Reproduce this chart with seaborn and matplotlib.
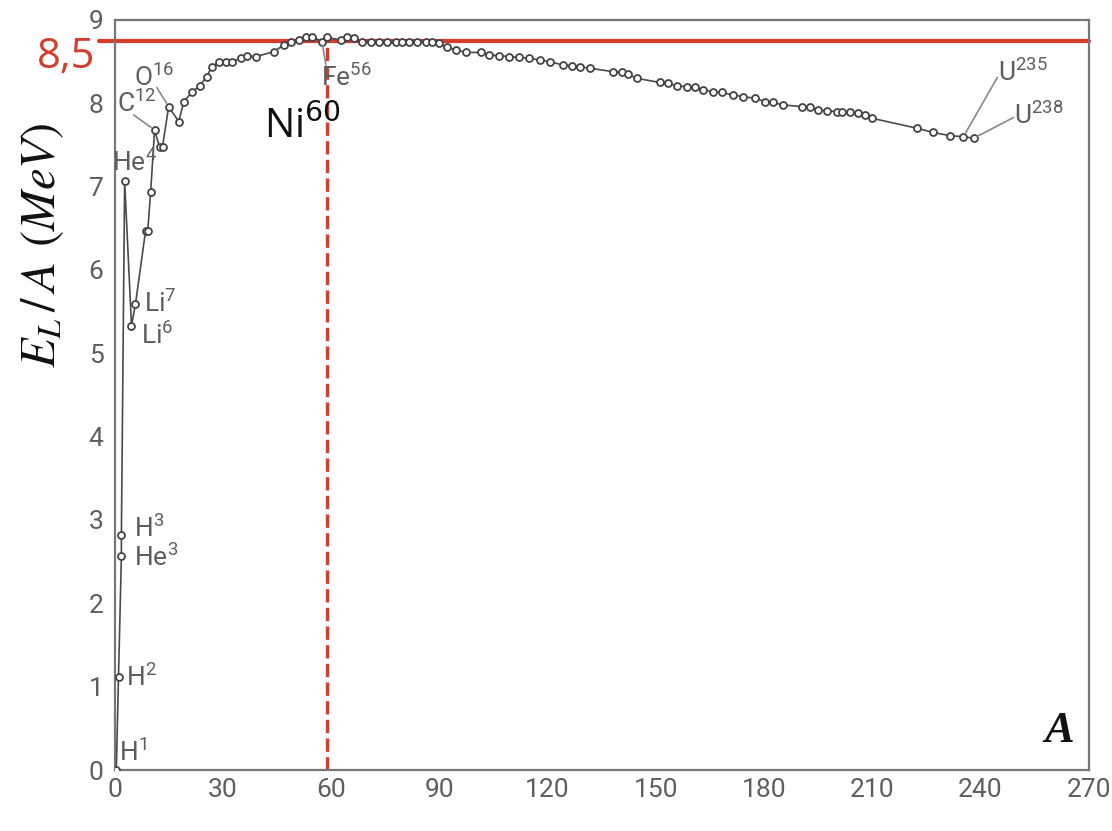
import matplotlib

matplotlib.use("Agg")
import matplotlib.pyplot as plt
import pandas as pd
import seaborn as sns

# Binding energy per nucleon
MASS_NUMBER = [
    0.5, 1.1, 1.9, 1.9, 2.8, 4.7, 5.8, 8.6, 9.2, 10.0,
    11.1, 12.5, 13.3, 15.0, 17.8, 19.2, 21.4, 23.6, 25.6, 26.9,
    28.9, 30.8, 32.5, 35.0, 36.7, 39.2, 44.2, 46.9, 48.9, 51.1,
    53.1, 54.7, 57.5, 58.9, 62.8, 64.4, 66.4, 68.6, 71.1, 73.3,
    75.6, 78.1, 79.7, 81.7, 83.9, 86.4, 88.1, 90.0, 92.2, 94.7,
    97.5, 101.7, 103.9, 106.7, 109.4, 112.2, 115.0, 117.8, 120.6, 124.2,
    126.9, 128.9, 131.7, 138.1, 140.6, 142.2, 144.7, 151.1, 153.3, 155.8,
    158.6, 160.8, 163.1, 165.8, 168.3, 171.4, 174.2, 177.5, 180.3, 182.5,
    185.3, 190.6, 192.8, 195.0, 197.5, 200.3, 201.7, 203.9, 206.1, 208.1,
    210.0, 222.5, 226.9, 231.7, 235.3, 238.1,
]
ENERGY_PER_NUCLEON = [
    0.0, 1.12, 2.57, 2.82, 7.07, 5.33, 5.59, 6.47, 6.47, 6.93,
    7.68, 7.47, 7.48, 7.96, 7.78, 8.02, 8.13, 8.21, 8.32, 8.44,
    8.49, 8.50, 8.50, 8.54, 8.57, 8.56, 8.62, 8.70, 8.73, 8.76,
    8.79, 8.80, 8.74, 8.79, 8.76, 8.79, 8.78, 8.73, 8.73, 8.73,
    8.73, 8.73, 8.73, 8.74, 8.74, 8.74, 8.74, 8.72, 8.67, 8.64,
    8.61, 8.61, 8.58, 8.57, 8.56, 8.55, 8.54, 8.52, 8.50, 8.46,
    8.45, 8.44, 8.42, 8.38, 8.37, 8.35, 8.30, 8.25, 8.24, 8.21,
    8.20, 8.19, 8.16, 8.14, 8.13, 8.10, 8.08, 8.06, 8.02, 8.01,
    7.98, 7.96, 7.95, 7.92, 7.91, 7.90, 7.89, 7.89, 7.88, 7.86,
    7.82, 7.70, 7.65, 7.61, 7.60, 7.58,
]

X_TICKS = [0, 30, 60, 90, 120, 150, 180, 210, 240, 270]
Y_TICKS = [0, 1, 2, 3, 4, 5, 6, 7, 8, 9]

PLATEAU_VALUE = 8.75
PLATEAU_LABEL = "8,5"
NI_MASS = 59

GREY = "#5e5e5e"
RED = "#d63c2a"

sns.set_theme(style="white")
plt.rcParams["font.family"] = ["Roboto", "DejaVu Sans"]
plt.rcParams["mathtext.fontset"] = "custom"
plt.rcParams["mathtext.rm"] = "Roboto"

df = pd.DataFrame({"A": MASS_NUMBER, "E": ENERGY_PER_NUCLEON})

fig = plt.figure(figsize=(11.12, 8.31), dpi=100)
ax = fig.add_axes([0.103, 0.0734, 0.876, 0.9026])

sns.lineplot(
    data=df, x="A", y="E", sort=False, estimator=None, ax=ax,
    color="#4a4a4a", linewidth=1.2, marker="o", markersize=5,
    markerfacecolor="white", markeredgecolor="#444444", markeredgewidth=1.3,
    zorder=3,
)

# red reference lines
ax.plot([-0.016, 1.0], [PLATEAU_VALUE, PLATEAU_VALUE], transform=ax.get_yaxis_transform(),
        color=RED, linewidth=3.0, clip_on=False, zorder=2)
ax.plot([NI_MASS, NI_MASS], [0, PLATEAU_VALUE], color=RED, linewidth=2.4,
        linestyle=(0, (4, 1.6)), zorder=2)
ax.text(-0.02, 8.55, PLATEAU_LABEL, transform=ax.get_yaxis_transform(), ha="right",
        va="center", fontsize=30, color=RED, family=["Open Sans", "DejaVu Sans"])

ax.set_xlim(0, 270)
ax.set_ylim(0, 9)
ax.set_xticks(X_TICKS)
ax.set_yticks(Y_TICKS)
ax.tick_params(axis="both", direction="in", colors="#999999", labelcolor=GREY,
               labelsize=19, width=1.0)
ax.tick_params(axis="x", length=14, pad=6)
ax.tick_params(axis="y", length=11, pad=8)
for spine in ax.spines.values():
    spine.set_visible(True)
    spine.set_color("#777777")
    spine.set_linewidth(1.6)

ax.set_xlabel("")
ax.set_ylabel(r"$E_L\,/\,A\;\,(MeV)$", fontsize=35, color="#111111", math_fontfamily="stix")
ax.yaxis.set_label_coords(-0.05, 0.70)
ax.text(0.985, 0.025, "A", transform=ax.transAxes, ha="right", va="bottom",
        fontsize=32, fontweight="bold", fontstyle="italic", color="#111111",
        family="Liberation Serif")

# isotope labels: (text, index of point, text position, draw pointer)
labels = [
    ("H$^{1}$", 0, (1.1, 0.22), False),
    ("H$^{2}$", 1, (3.1, 1.12), False),
    ("He$^{3}$", 2, (5.3, 2.56), False),
    ("H$^{3}$", 3, (5.3, 2.90), False),
    ("He$^{4}$", 4, (-0.8, 7.29), False),
    ("Li$^{6}$", 5, (7.2, 5.22), False),
    ("Li$^{7}$", 6, (8.1, 5.60), False),
    ("C$^{12}$", 10, (0.6, 8.00), True),
    ("O$^{16}$", 13, (5.3, 8.32), True),
    ("Fe$^{56}$", 32, (57.2, 8.32), True),
    ("U$^{235}$", 94, (245.0, 8.37), True),
    ("U$^{238}$", 95, (249.2, 7.86), True),
]
pointer_start = {10: (5.3, 7.86), 13: (11.7, 8.19), 32: (58.6, 8.46),
                 94: (244.7, 8.31), 95: (249.2, 7.83)}
for text, idx, (tx, ty), pointer in labels:
    ax.text(tx, ty, text, ha="left", va="center", fontsize=19, color=GREY, zorder=4)
    if pointer:
        ax.annotate("", xy=(MASS_NUMBER[idx], ENERGY_PER_NUCLEON[idx]),
                    xytext=pointer_start[idx],
                    arrowprops=dict(arrowstyle="-", color="#888888", lw=1.2,
                                    shrinkA=0, shrinkB=3))

ax.text(41.4, 7.71, "Ni$^{60}$", ha="left", va="center", fontsize=29, color="#111111",
        family=["Open Sans", "DejaVu Sans"], math_fontfamily="dejavusans", zorder=4)

fig.savefig("out.png", dpi=100)
